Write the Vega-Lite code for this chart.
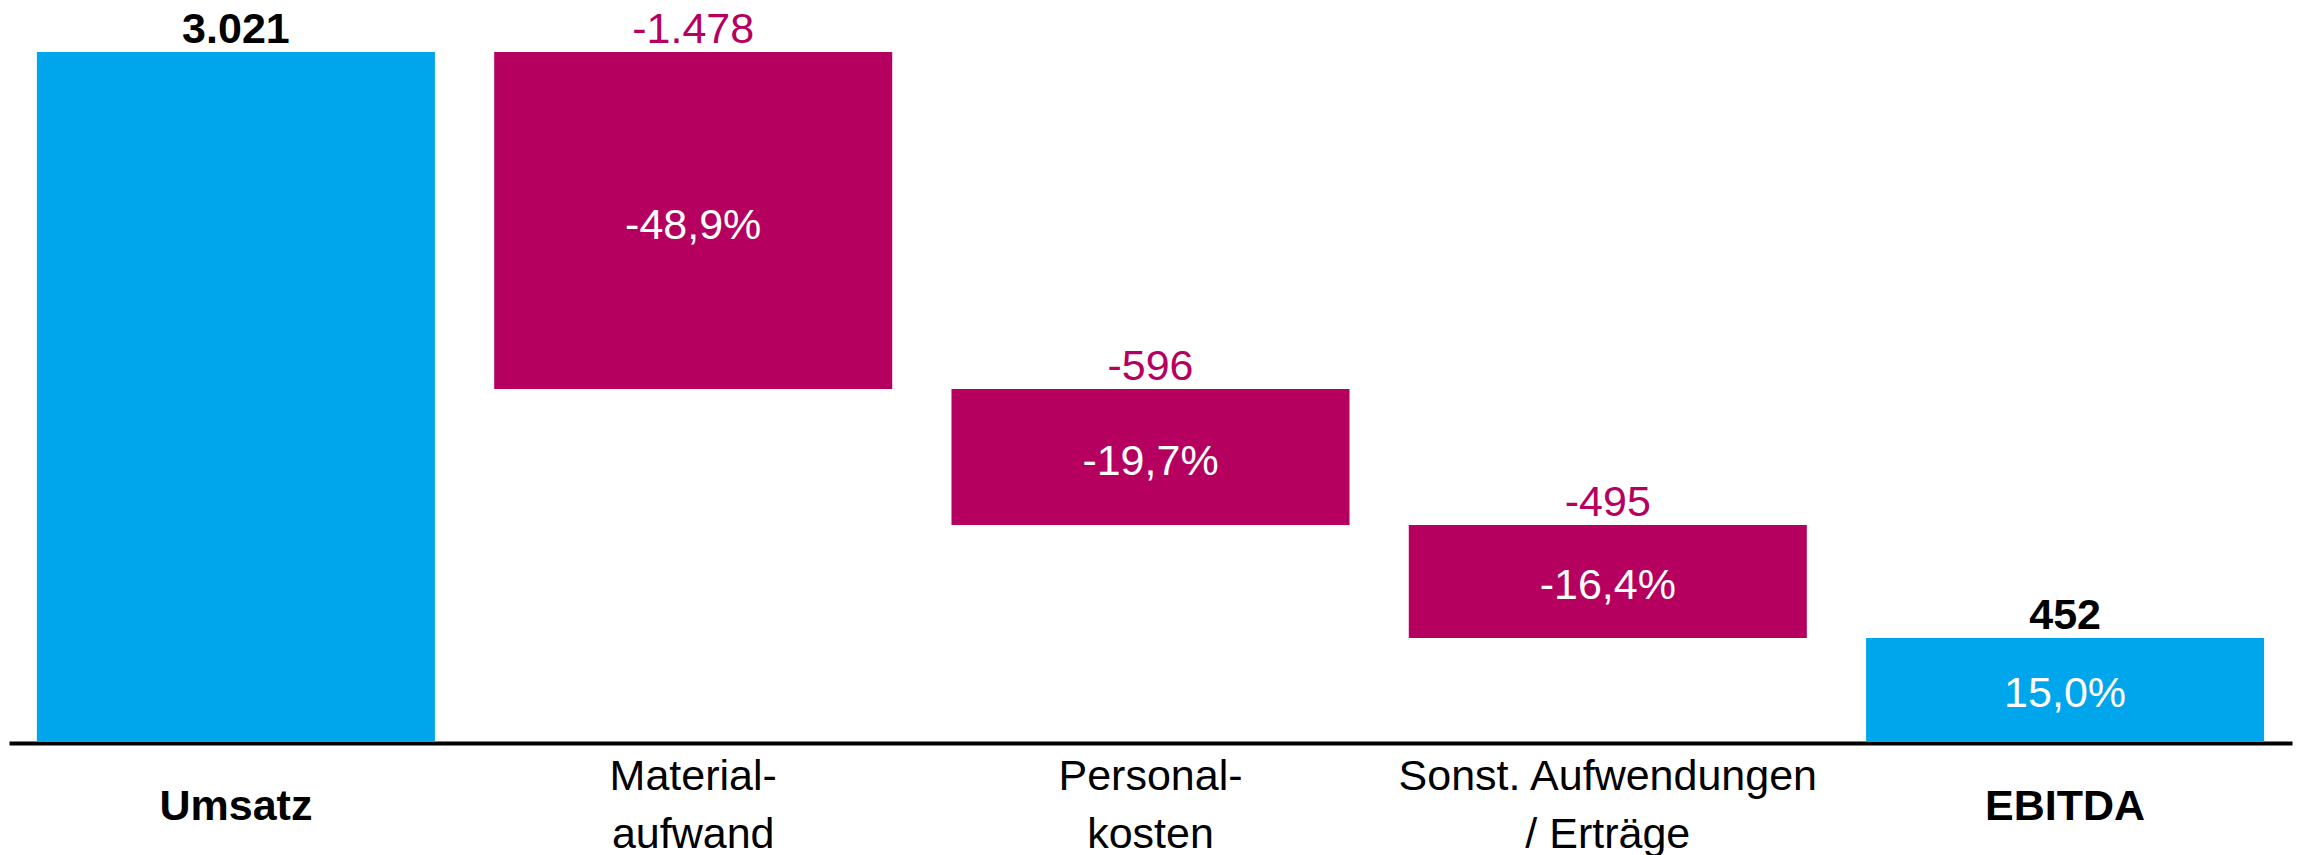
{
  "$schema": "https://vega.github.io/schema/vega-lite/v6.json",
  "width": 2283,
  "height": 741,
  "autosize": {"type": "none"},
  "padding": {"left": 9, "top": 0, "right": 11, "bottom": 114},
  "background": "white",
  "config": {"view": {"stroke": null}, "font": "Liberation Sans"},
  "data": {
    "values": [
      {"cat": "Umsatz", "hi": 3021, "lo": 0, "label": "3.021", "pct": "", "kind": "total"},
      {"cat": "Material-|aufwand", "hi": 3021, "lo": 1543, "label": "-1.478", "pct": "-48,9%", "kind": "neg"},
      {"cat": "Personal-|kosten", "hi": 1543, "lo": 947, "label": "-596", "pct": "-19,7%", "kind": "neg"},
      {"cat": "Sonst. Aufwendungen|/ Erträge", "hi": 947, "lo": 452, "label": "-495", "pct": "-16,4%", "kind": "neg"},
      {"cat": "EBITDA", "hi": 452, "lo": 0, "label": "452", "pct": "15,0%", "kind": "total"}
    ]
  },
  "encoding": {
    "x": {
      "field": "cat",
      "type": "nominal",
      "sort": null,
      "scale": {"paddingInner": 0.1296, "paddingOuter": 0.061},
      "axis": {
        "title": null,
        "domainColor": "#000000",
        "domainWidth": 4,
        "offset": 2,
        "ticks": false,
        "tickSize": 0,
        "labelFont": "Liberation Sans",
        "labelFontSize": 43,
        "labelColor": "#000000",
        "labelAngle": 0,
        "labelPadding": {
          "condition": {"test": "datum.value == 'Umsatz' || datum.value == 'EBITDA'", "value": 63},
          "value": 33
        },
        "labelBaseline": "middle",
        "labelLineHeight": 58,
        "labelLimit": 0,
        "labelOverlap": false,
        "labelExpr": "split(datum.label, '|')",
        "labelFontWeight": {
          "condition": {"test": "datum.value == 'Umsatz' || datum.value == 'EBITDA'", "value": "bold"},
          "value": "normal"
        }
      }
    }
  },
  "layer": [
    {
      "mark": {"type": "bar"},
      "encoding": {
        "y": {"field": "hi", "type": "quantitative", "scale": {"domain": [0, 3249], "nice": false, "zero": true}, "axis": null},
        "y2": {"field": "lo"},
        "color": {
          "field": "kind",
          "type": "nominal",
          "scale": {"domain": ["total", "neg"], "range": ["#00A6EB", "#B5005F"]},
          "legend": null
        }
      }
    },
    {
      "transform": [{"filter": "datum.kind == 'total'"}],
      "mark": {"type": "text", "baseline": "alphabetic", "dy": -9, "fontSize": 43, "fontWeight": "bold", "color": "#000000", "font": "Liberation Sans"},
      "encoding": {
        "y": {"field": "hi", "type": "quantitative", "scale": {"domain": [0, 3249], "nice": false, "zero": true}, "axis": null},
        "text": {"field": "label"}
      }
    },
    {
      "transform": [{"filter": "datum.kind == 'neg'"}],
      "mark": {"type": "text", "baseline": "alphabetic", "dy": -9, "fontSize": 43, "fontWeight": "normal", "color": "#B5005F", "font": "Liberation Sans"},
      "encoding": {
        "y": {"field": "hi", "type": "quantitative", "scale": {"domain": [0, 3249], "nice": false, "zero": true}, "axis": null},
        "text": {"field": "label"}
      }
    },
    {
      "transform": [
        {"filter": "datum.pct != ''"},
        {"fold": ["hi", "lo"], "as": ["k", "v"]},
        {"aggregate": [{"op": "mean", "field": "v", "as": "mid"}], "groupby": ["cat", "pct"]}
      ],
      "mark": {"type": "text", "baseline": "middle", "dy": 5, "fontSize": 43, "fontWeight": "normal", "color": "#FFFFFF", "font": "Liberation Sans"},
      "encoding": {
        "y": {"field": "mid", "type": "quantitative", "scale": {"domain": [0, 3249], "nice": false, "zero": true}, "axis": null},
        "text": {"field": "pct"}
      }
    }
  ]
}
